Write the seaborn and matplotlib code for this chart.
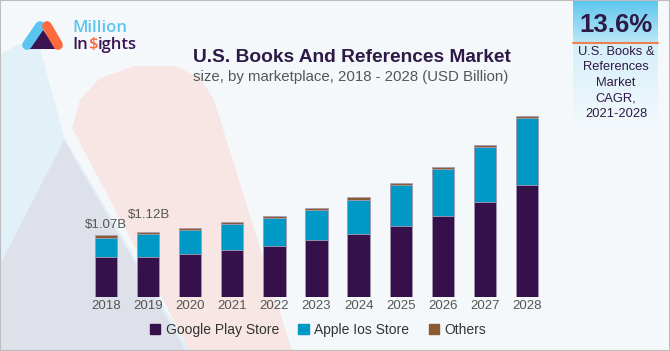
import numpy as np
import pandas as pd
import matplotlib
matplotlib.use("Agg")
import matplotlib.pyplot as plt
import seaborn as sns
from matplotlib.patches import Polygon, Rectangle
from matplotlib.lines import Line2D

# data (USD billion)
years = ["2018", "2019", "2020", "2021", "2022", "2023", "2024", "2025", "2026", "2027", "2028"]
google_play = [0.70, 0.70, 0.74, 0.81, 0.88, 0.98, 1.10, 1.23, 1.41, 1.65, 1.935]
apple_ios = [0.325, 0.385, 0.415, 0.45, 0.485, 0.525, 0.585, 0.705, 0.80, 0.945, 1.16]
others = [0.045, 0.035, 0.035, 0.045, 0.04, 0.04, 0.045, 0.047, 0.047, 0.047, 0.04]
value_labels = {"2018": "$1.07B", "2019": "$1.12B"}
series_names = ["Google Play Store", "Apple Ios Store", "Others"]

C_GOOGLE = "#36104A"
C_APPLE = "#0098C4"
C_OTHERS = "#8C5A32"
PURPLE = "#2E1A47"
GREY_TXT = "#555555"

W, H = 670, 351


def px(x, y):
    return (x / W, 1 - y / H)


df = pd.DataFrame({"year": years, "google": google_play, "apple": apple_ios, "others": others})
df["ga"] = df["google"] + df["apple"]
df["total"] = df["ga"] + df["others"]

sns.set_theme(style="white")
plt.rcParams["font.family"] = ["Liberation Sans", "DejaVu Sans"]

fig = plt.figure(figsize=(W / 100, H / 100), dpi=100)
fig.patch.set_facecolor("#F4F8FB")

# background decoration
deco = [
    ([(0, 55), (18, 44), (40, 48), (64, 137), (190, 351), (0, 351)], "#E2F0F8"),
    ([(64, 140), (186, 351), (0, 351), (0, 265)], "#DFE1EA"),
    ([(72, 128), (80, 100), (100, 78), (135, 66), (175, 66), (200, 78), (214, 100), (292, 351), (190, 351)], "#F7E6E3"),
]
for pts, col in deco:
    fig.add_artist(Polygon([px(*p) for p in pts], closed=True, facecolor=col,
                           edgecolor="none", transform=fig.transFigure, zorder=-5))

# chart
ax = fig.add_axes([85 / W, 54 / H, 463 / W, 3.4 * 57.7 / H])
ax.set_facecolor("none")
bw = 0.53
edge = "#A99FB3"
sns.barplot(data=df, x="year", y="total", color=C_OTHERS, saturation=1, width=bw,
            edgecolor=edge, linewidth=0.6, ax=ax)
sns.barplot(data=df, x="year", y="ga", color=C_APPLE, saturation=1, width=bw,
            edgecolor=edge, linewidth=0.6, ax=ax)
sns.barplot(data=df, x="year", y="google", color=C_GOOGLE, saturation=1, width=bw,
            edgecolor=edge, linewidth=0.6, ax=ax)
ax.set_xlim(-0.5, len(years) - 0.5)
ax.set_ylim(0, 3.4)
ax.set_xlabel("")
ax.set_ylabel("")
ax.set_yticks([])
for s in ax.spines.values():
    s.set_visible(False)
ax.tick_params(axis="x", length=0, pad=2, labelsize=9.5, labelcolor=GREY_TXT)

offsets = {"2018": (0, 3), "2019": (1, 8)}
for i, y in enumerate(years):
    if y in value_labels:
        ax.annotate(value_labels[y], (i, df["total"][i]), xytext=offsets[y],
                    textcoords="offset points", ha="center", va="bottom",
                    fontsize=9.5, color=GREY_TXT)

handles = [Rectangle((0, 0), 1, 1, color=c) for c in (C_GOOGLE, C_APPLE, C_OTHERS)]
fig.legend(handles, series_names, loc="center", bbox_to_anchor=px(318, 330), ncol=3,
           frameon=False, fontsize=10, handlelength=0.75, handleheight=0.75,
           handletextpad=0.4, columnspacing=1.4, labelcolor="#333333")

# titles
fig.text(*px(193, 57), "U.S. Books And References Market", fontsize=13.8,
         fontweight="bold", color=PURPLE, ha="left", va="center")
fig.text(*px(193, 77), "size, by marketplace, 2018 - 2028 (USD Billion)", fontsize=10.8,
         color=GREY_TXT, ha="left", va="center")

# CAGR box
grad = np.linspace(0, 1, 50).reshape(-1, 1)
bx = fig.add_axes([573 / W, 1 - 43 / H, 85 / W, 43 / H])
bx.imshow(grad, aspect="auto", cmap=matplotlib.colors.LinearSegmentedColormap.from_list(
    "top", ["#5CC6EE", "#BDE7F7"]), extent=(0, 1, 0, 1))
bx.axis("off")
bx2 = fig.add_axes([573 / W, 1 - 128 / H, 85 / W, 85 / H])
bx2.imshow(grad, aspect="auto", cmap=matplotlib.colors.LinearSegmentedColormap.from_list(
    "bot", ["#D6EFFA", "#F3F9FC"]), extent=(0, 1, 0, 1))
bx2.axis("off")
fig.add_artist(Line2D([573 / W, 658 / W], [1 - 43 / H] * 2, color="#F07F4F", lw=1.5,
                      transform=fig.transFigure))
fig.text(*px(616, 25), "13.6%", fontsize=18.5, fontweight="bold", color=PURPLE,
         ha="center", va="center")
fig.text(*px(616, 83), "U.S. Books &\nReferences\nMarket\nCAGR,\n2021-2028", fontsize=9.3,
         color=PURPLE, ha="center", va="center", linespacing=1.4)

# logo
fig.add_artist(Line2D([40 / W, 27 / W], [1 - 26 / H, 1 - 45 / H], color="#5BC5F0", lw=7,
                      solid_capstyle="round", transform=fig.transFigure))
fig.add_artist(Line2D([47 / W, 58 / W], [1 - 26 / H, 1 - 45 / H], color="#FF6A3D", lw=7,
                      solid_capstyle="round", transform=fig.transFigure))
fig.add_artist(Polygon([px(28, 49), px(57, 49), px(41, 27)], closed=True,
                       facecolor="#3A1552", edgecolor="none", transform=fig.transFigure))
logo_font = dict(fontsize=12, fontweight="semibold", family=["Open Sans", "DejaVu Sans"],
                 ha="left", va="center")
fig.text(*px(72, 27.5), "Million", color="#5BC5F0", **logo_font)
fig.canvas.draw()
x0 = 72
for piece, col in (("In", "#3A1552"), ("$", "#FF6A3D"), ("ights", "#3A1552")):
    t = fig.text(*px(x0, 45), piece, color=col, **logo_font)
    bb = t.get_window_extent(renderer=fig.canvas.get_renderer())
    x0 += bb.width * 100 / fig.dpi + 0.3

# frame
fig.add_artist(Rectangle((0, 0), 1, 1, fill=False, edgecolor="#BDBDBD", lw=1.5,
                         transform=fig.transFigure))

fig.savefig("out.png", dpi=100, facecolor=fig.get_facecolor())
